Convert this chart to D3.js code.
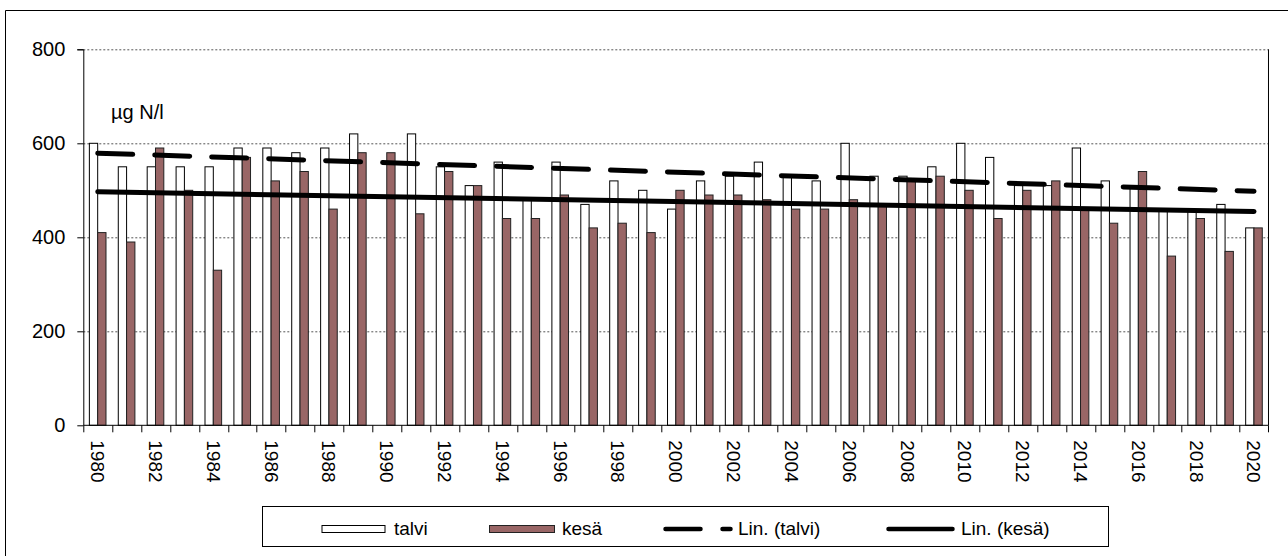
<!DOCTYPE html>
<html>
<head>
<meta charset="utf-8">
<script src="https://cdn.jsdelivr.net/npm/d3@7"></script>
<style>
  body { margin: 0; background: #fff; }
  svg { font-family: "Liberation Sans", Arial, sans-serif; }
</style>
</head>
<body>
<div id="chart"></div>
<script>
// data (µg N/l), talvi 1990 missing
const years = [1980,1981,1982,1983,1984,1985,1986,1987,1988,1989,
  1990,1991,1992,1993,1994,1995,1996,1997,1998,1999,
  2000,2001,2002,2003,2004,2005,2006,2007,2008,2009,
  2010,2011,2012,2013,2014,2015,2016,2017,2018,2019,2020];
const talvi = [600,550,550,550,550,590,590,580,590,620,
  null,620,550,510,560,480,560,470,520,500,
  460,520,530,560,530,520,600,530,530,550,
  600,570,510,510,590,520,510,455,455,470,420];
const kesa = [410,390,590,500,330,570,520,540,460,580,
  580,450,540,510,440,440,490,420,430,410,
  500,490,490,480,460,460,480,470,520,530,
  500,440,500,520,460,430,540,360,440,370,420];
// trend line end values (first year, last year)
const trendTalvi = [579, 498];
const trendKesa = [497, 455];
const yTicks = [0, 200, 400, 600, 800];
const yearLabels = years.filter((d, i) => i % 2 === 0);
const legendNames = ['talvi', 'kesä', 'Lin. (talvi)', 'Lin. (kesä)'];

const width = 1288, height = 556;
const margin = { top: 49.3, right: 19.5, bottom: 130.7, left: 83.3 };
const w = width - margin.left - margin.right;
const h = height - margin.top - margin.bottom;
const brown = '#996666';

const svg = d3.select('#chart').append('svg')
  .attr('width', width)
  .attr('height', height);

// outer frame
svg.append('path')
  .attr('d', `M5.5,${height}V10.5H${width}`)
  .attr('fill', 'none').attr('stroke', '#000');

const g = svg.append('g').attr('transform', `translate(${margin.left},${margin.top})`);

const x = d3.scaleBand().domain(years).range([0, w]);
const bw = x.bandwidth();
const sub = d3.scaleBand().domain(['talvi', 'kesa']).range([bw * 0.21, bw * 0.785]);
const y = d3.scaleLinear().domain([0, 800]).range([h, 0]);

// gridlines
g.append('g').selectAll('line')
  .data(yTicks.filter(d => d > 0))
  .join('line')
  .attr('x1', 0).attr('x2', w)
  .attr('y1', d => Math.round(y(d)) + 0.5).attr('y2', d => Math.round(y(d)) + 0.5)
  .attr('stroke', '#555').attr('stroke-dasharray', '2,2');

// right edge of plot area
g.append('line')
  .attr('x1', w).attr('x2', w).attr('y1', 0).attr('y2', h)
  .attr('stroke', '#000');

// bars
const rows = years.map((yr, i) => ({ yr, talvi: talvi[i], kesa: kesa[i] }));
const grp = g.append('g').selectAll('g').data(rows).join('g')
  .attr('transform', d => `translate(${x(d.yr)},0)`);

grp.filter(d => d.talvi != null).append('rect')
  .attr('x', sub('talvi')).attr('width', sub.bandwidth())
  .attr('y', d => y(d.talvi)).attr('height', d => h - y(d.talvi))
  .attr('fill', '#fff').attr('stroke', '#000').attr('stroke-width', 1);

grp.append('rect')
  .attr('x', sub('kesa')).attr('width', sub.bandwidth())
  .attr('y', d => y(d.kesa)).attr('height', d => h - y(d.kesa))
  .attr('fill', brown).attr('stroke', '#222').attr('stroke-width', 1);

// trend lines
const first = years[0], last = years[years.length - 1];
const line = d3.line()
  .x(d => x(d[0]) + bw / 2)
  .y(d => y(d[1]));

g.append('path')
  .datum([[first, trendTalvi[0]], [last, trendTalvi[1]]])
  .attr('fill', 'none').attr('stroke', '#000').attr('stroke-width', 5)
  .attr('stroke-linecap', 'round').attr('stroke-dasharray', '35,22')
  .attr('d', line);

g.append('path')
  .datum([[first, trendKesa[0]], [last, trendKesa[1]]])
  .attr('fill', 'none').attr('stroke', '#000').attr('stroke-width', 5)
  .attr('stroke-linecap', 'round')
  .attr('d', line);

// y axis
g.append('g')
  .call(d3.axisLeft(y).tickValues(yTicks).tickSize(6).tickPadding(12))
  .call(a => a.select('.domain').attr('d', `M-6,0.5H0.5V${h}`).attr('stroke', '#000'))
  .call(a => a.selectAll('text').attr('font-size', 20).attr('fill', '#000')
    .attr('font-family', '"Liberation Sans", Arial, sans-serif'));

// x axis: line, ticks between categories, rotated labels
const xa = g.append('g').attr('transform', `translate(0,${h})`);
xa.append('line').attr('x1', 0).attr('x2', w).attr('stroke', '#000');
xa.selectAll('line.t')
  .data(years.concat(['end']))
  .join('line').attr('class', 't')
  .attr('x1', d => d === 'end' ? w : Math.round(x(d)) + 0.5)
  .attr('x2', d => d === 'end' ? w : Math.round(x(d)) + 0.5)
  .attr('y1', 0).attr('y2', 7).attr('stroke', '#000');
xa.selectAll('text')
  .data(yearLabels)
  .join('text')
  .attr('transform', d => `translate(${x(d) + bw / 2},15) rotate(90)`)
  .attr('dy', '0.35em')
  .attr('font-size', 19)
  .text(d => d);

// unit label
g.append('text')
  .attr('x', 111 - margin.left).attr('y', 119 - margin.top)
  .attr('font-size', 20)
  .text('µg N/l');

// legend
const lg = svg.append('g');
lg.append('rect')
  .attr('x', 262.5).attr('y', 506.5).attr('width', 846).attr('height', 40)
  .attr('fill', '#fff').attr('stroke', '#000');

const ly = 529;
lg.append('rect').attr('x', 322).attr('y', ly - 3.5).attr('width', 63).attr('height', 7)
  .attr('fill', '#fff').attr('stroke', '#000');
lg.append('rect').attr('x', 489.5).attr('y', ly - 3.5).attr('width', 65).attr('height', 7)
  .attr('fill', brown).attr('stroke', '#222');
lg.append('line').attr('x1', 665.5).attr('x2', 730.5).attr('y1', ly).attr('y2', ly)
  .attr('stroke', '#000').attr('stroke-width', 4.5).attr('stroke-linecap', 'round')
  .attr('stroke-dasharray', '35,22');
lg.append('line').attr('x1', 888.5).attr('x2', 952.5).attr('y1', ly).attr('y2', ly)
  .attr('stroke', '#000').attr('stroke-width', 4.5).attr('stroke-linecap', 'round');

lg.selectAll('text.l')
  .data(legendNames)
  .join('text').attr('class', 'l')
  .attr('x', (d, i) => [394, 562, 738, 961][i])
  .attr('y', 535)
  .attr('font-size', 19)
  .text(d => d);
</script>
</body>
</html>
